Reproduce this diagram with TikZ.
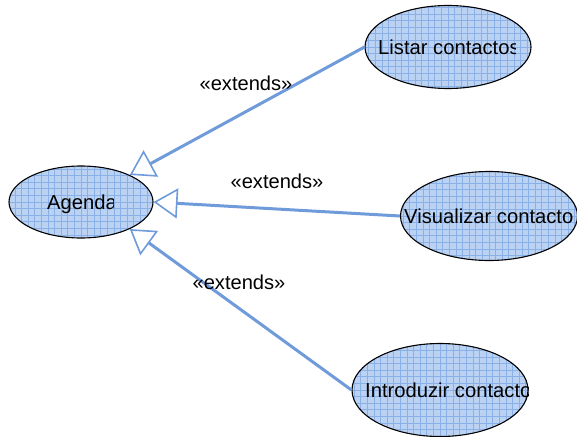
\documentclass[tikz,border=0pt]{standalone}
\usepackage{fontspec}
\setmainfont{Liberation Sans}
\usetikzlibrary{shapes.geometric,arrows.meta}
\definecolor{cellfill}{HTML}{BBD2F2}
\definecolor{cellgrid}{HTML}{8AB0E8}
\definecolor{linkblue}{HTML}{6F9BDB}
\tikzset{
  x=1pt,y=-1pt,
  usecase/.style={shape=ellipse,draw=black,line width=1.1pt,fill=cellfill,inner sep=0pt,
    path picture={
      \foreach \k in {-15,...,15} {
        \draw[cellgrid,line width=0.7pt] (\k*6.6,-60) -- (\k*6.6,60);
      }
      \foreach \k in {-9,...,9} {
        \draw[cellgrid,line width=0.7pt] (-100,\k*6.6) -- (100,\k*6.6);
      }
    }},
  casetext/.style={font=\fontsize{20.2}{24}\selectfont,text=black,inner sep=0pt,anchor=base west},
  steplabel/.style={font=\fontsize{20.1}{24}\selectfont,text=black,inner sep=0pt},
  extendlink/.style={draw=linkblue,line width=3pt,
    -{Triangle[open,fill=white,length=24pt,width=30pt,line width=1.6pt,sep=0pt]}},
}
\begin{document}
\begin{tikzpicture}
\useasboundingbox (0,0) rectangle (577,436);
\node[usecase,minimum width=144pt,minimum height=72pt] (agenda) at (81,202) {};
\node[usecase,minimum width=166pt,minimum height=83pt] (listar) at (448,47) {};
\node[usecase,minimum width=177pt,minimum height=89pt] (visualizar) at (489,216) {};
\node[usecase,minimum width=176pt,minimum height=93pt] (introduzir) at (440,390) {};
\begin{scope}
\clip (40,180) rectangle (113.5,225);
\node[casetext] (agendatext) at (47,209) {Agenda};
\end{scope}
\begin{scope}
\clip (370,25) rectangle (515,70);
\node[casetext] (listartext) at (378,54) {Listar contactos};
\end{scope}
\begin{scope}
\clip (395,195) rectangle (576,240);
\node[casetext] (visualizartext) at (404,223) {Visualizar contacto};
\end{scope}
\begin{scope}
\clip (360,370) rectangle (528,415);
\node[casetext] (introduzirtext) at (365,397) {Introduzir contacto};
\end{scope}
\draw[extendlink] (listar.180) -- (agenda.29);
\draw[extendlink] (visualizar.180) -- (agenda.0);
\draw[extendlink] (introduzir.180) -- (agenda.-29);
\node[steplabel] (ext1) at (246,83) {«extends»};
\node[steplabel] (ext2) at (277,181) {«extends»};
\node[steplabel] (ext3) at (239,282) {«extends»};
\end{tikzpicture}
\end{document}
